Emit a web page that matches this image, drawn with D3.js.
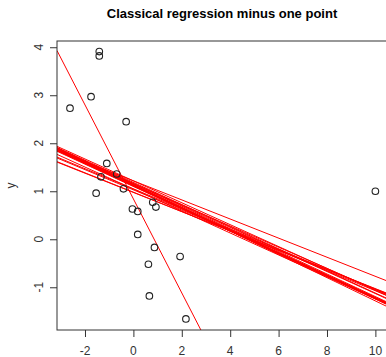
<!DOCTYPE html>
<html>
  <head>
    <meta charset="UTF-8">
    <style>
      body { margin: 0; background: #fff; }
      svg text { font-family: "Liberation Sans", Arial, sans-serif; fill: #000; }
      .title { font-size: 13px; font-weight: bold; text-anchor: middle; }
      .tick-label { font-size: 12px; text-anchor: middle; dominant-baseline: central; fill: #333; }
      .frame { fill: none; stroke: #333; stroke-width: 1; }
    </style>
    <script src="https://cdn.jsdelivr.net/npm/d3@7"></script>
  </head>
  <body>
    <script>
      var xs = [-2.62, -1.75, -1.41, -1.41, -0.30, -1.10, -0.69, -1.34, -1.54, -0.41,
                -0.04, 0.18, 0.80, 0.93, 0.18, 0.87, 1.93, 0.62, 0.66, 2.17, 10.0];
      var ys = [2.73, 2.97, 3.91, 3.82, 2.45, 1.58, 1.36, 1.30, 0.96, 1.05,
                0.63, 0.58, 0.77, 0.67, 0.10, -0.17, -0.36, -0.52, -1.18, -1.66, 1.0];

      var xTicks = [-2, 0, 2, 4, 6, 8, 10];
      var yTicks = [-1, 0, 1, 2, 3, 4];
      var title = "Classical regression minus one point";
      var yLabel = "y";

      var width = 386, height = 357;
      var plotLeft = 57, plotRight = 387, plotTop = 41, plotBottom = 330;

      var x = d3.scaleLinear().domain([-3.157, 10.48]).range([plotLeft, plotRight]);
      var y = d3.scaleLinear().domain([-1.89, 4.13]).range([plotBottom, plotTop]);

      // least squares fit leaving out point k
      function fitWithout(k) {
        var px = xs.filter(function(d, i) { return i !== k; });
        var py = ys.filter(function(d, i) { return i !== k; });
        var mx = d3.mean(px), my = d3.mean(py);
        var sxy = d3.sum(px, function(d, i) { return (d - mx) * (py[i] - my); });
        var sxx = d3.sum(px, function(d) { return (d - mx) * (d - mx); });
        var b = sxy / sxx;
        return { a: my - b * mx, b: b };
      }
      var fits = xs.map(function(d, i) { return fitWithout(i); });

      var svg = d3.select("body").append("svg")
        .attr("width", width)
        .attr("height", height);

      svg.append("defs").append("clipPath").attr("id", "plot")
        .append("rect")
        .attr("x", plotLeft).attr("y", plotTop)
        .attr("width", plotRight - plotLeft).attr("height", plotBottom - plotTop);

      svg.append("text")
        .attr("class", "title")
        .attr("x", (plotLeft + plotRight) / 2)
        .attr("y", 18)
        .text(title);

      // regression lines
      var xd = x.domain();
      svg.append("g")
        .attr("clip-path", "url(#plot)")
        .selectAll("line")
        .data(fits)
        .enter().append("line")
        .attr("x1", x(xd[0])).attr("x2", x(xd[1]))
        .attr("y1", function(d) { return y(d.a + d.b * xd[0]); })
        .attr("y2", function(d) { return y(d.a + d.b * xd[1]); })
        .attr("stroke", "#ff0000")
        .attr("stroke-width", 1);

      // points
      svg.append("g")
        .selectAll("circle")
        .data(xs)
        .enter().append("circle")
        .attr("cx", function(d) { return x(d); })
        .attr("cy", function(d, i) { return y(ys[i]); })
        .attr("r", 3.3)
        .attr("fill", "none")
        .attr("stroke", "#222")
        .attr("stroke-width", 1.1);

      // frame
      svg.append("rect")
        .attr("class", "frame")
        .attr("x", plotLeft).attr("y", plotTop)
        .attr("width", plotRight - plotLeft).attr("height", plotBottom - plotTop);

      // x axis
      var xAxis = d3.axisBottom(x).tickValues(xTicks).tickSize(7)
        .tickFormat(function() { return ""; });
      var gx = svg.append("g")
        .attr("transform", "translate(0," + plotBottom + ")")
        .call(xAxis);
      gx.select(".domain").remove();
      gx.selectAll(".tick line").attr("stroke", "#333");
      svg.selectAll(".xlab")
        .data(xTicks)
        .enter().append("text")
        .attr("class", "tick-label")
        .attr("x", function(d) { return x(d); })
        .attr("y", 351)
        .text(function(d) { return String(d); });

      // y axis
      var yAxis = d3.axisLeft(y).tickValues(yTicks).tickSize(7)
        .tickFormat(function() { return ""; });
      var gy = svg.append("g")
        .attr("transform", "translate(" + plotLeft + ",0)")
        .call(yAxis);
      gy.select(".domain").remove();
      gy.selectAll(".tick line").attr("stroke", "#333");
      svg.selectAll(".ylab")
        .data(yTicks)
        .enter().append("text")
        .attr("class", "tick-label")
        .attr("transform", function(d) { return "translate(38.5," + y(d) + ") rotate(-90)"; })
        .text(function(d) { return String(d); });

      svg.append("text")
        .attr("class", "tick-label")
        .attr("transform", "translate(11," + (plotTop + plotBottom) / 2 + ") rotate(-90)")
        .text(yLabel);
    </script>
  </body>
</html>
